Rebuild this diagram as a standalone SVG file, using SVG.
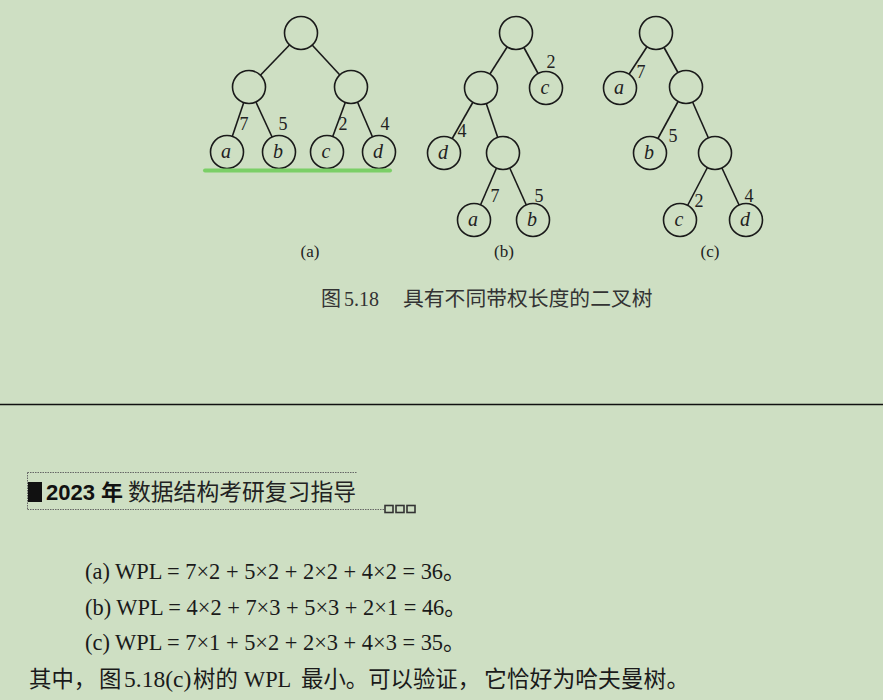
<svg xmlns="http://www.w3.org/2000/svg" width="883" height="700" viewBox="0 0 883 700">
<style>
.bg{fill:#cedfc3}
.edge{stroke:#1a1a1a;stroke-width:1.6;fill:none}
.node circle{fill:#cedfc3;stroke:#1a1a1a;stroke-width:1.6}
.leaf{font-family:"Liberation Serif",serif;font-style:italic;font-size:20px;fill:#222;text-anchor:middle}
.w{font-family:"Liberation Serif",serif;font-size:18px;fill:#222;text-anchor:middle}
.sub{font-family:"Liberation Serif",serif;font-size:17px;fill:#222;text-anchor:middle}
.cap{font-family:"Liberation Serif","Noto Sans CJK SC",serif;font-size:20px;fill:#333}
.body{font-family:"Liberation Serif","Noto Sans CJK SC",serif;font-size:22.4px;fill:#1a1a1a}
.frame{stroke:#666;stroke-width:1;stroke-dasharray:1.5 1;fill:none}
</style>
<rect class="bg" x="0" y="0" width="883" height="700"/>
<g id="connectors">
  <line class="edge" x1="301" y1="33" x2="249" y2="87"/>
  <line class="edge" x1="301" y1="33" x2="351" y2="87"/>
  <line class="edge" x1="249" y1="87" x2="227" y2="152"/>
  <line class="edge" x1="249" y1="87" x2="279" y2="152"/>
  <line class="edge" x1="351" y1="87" x2="327" y2="152"/>
  <line class="edge" x1="351" y1="87" x2="379" y2="152"/>
  <line class="edge" x1="516" y1="33" x2="481" y2="88"/>
  <line class="edge" x1="516" y1="33" x2="546" y2="88"/>
  <line class="edge" x1="481" y1="88" x2="444" y2="153"/>
  <line class="edge" x1="481" y1="88" x2="503" y2="153"/>
  <line class="edge" x1="503" y1="153" x2="474" y2="220"/>
  <line class="edge" x1="503" y1="153" x2="533" y2="220"/>
  <line class="edge" x1="656" y1="33" x2="620" y2="88"/>
  <line class="edge" x1="656" y1="33" x2="686" y2="87"/>
  <line class="edge" x1="686" y1="87" x2="650" y2="153"/>
  <line class="edge" x1="686" y1="87" x2="715" y2="153"/>
  <line class="edge" x1="715" y1="153" x2="680" y2="220"/>
  <line class="edge" x1="715" y1="153" x2="746" y2="220"/>
</g>
<g id="edge-labels">
  <text class="w" x="244" y="130">7</text>
  <text class="w" x="283" y="130">5</text>
  <text class="w" x="343" y="130">2</text>
  <text class="w" x="385" y="130">4</text>
  <text class="w" x="551" y="68">2</text>
  <text class="w" x="462" y="137">4</text>
  <text class="w" x="495" y="202">7</text>
  <text class="w" x="539" y="202">5</text>
  <text class="w" x="641" y="78">7</text>
  <text class="w" x="673" y="142">5</text>
  <text class="w" x="699" y="207">2</text>
  <text class="w" x="749" y="202">4</text>
</g>
<g id="a-root" class="node"><circle cx="301" cy="33" r="16.5"/></g>
<g id="a-left" class="node"><circle cx="249" cy="87" r="16.5"/></g>
<g id="a-right" class="node"><circle cx="351" cy="87" r="16.5"/></g>
<g id="a-leaf-a" class="node"><circle cx="227" cy="152" r="16.5"/><text class="leaf" x="226" y="158">a</text></g>
<g id="a-leaf-b" class="node"><circle cx="279" cy="152" r="16.5"/><text class="leaf" x="278" y="158">b</text></g>
<g id="a-leaf-c" class="node"><circle cx="327" cy="152" r="16.5"/><text class="leaf" x="326" y="158">c</text></g>
<g id="a-leaf-d" class="node"><circle cx="379" cy="152" r="16.5"/><text class="leaf" x="378" y="158">d</text></g>
<g id="b-root" class="node"><circle cx="516" cy="33" r="16.5"/></g>
<g id="b-int1" class="node"><circle cx="481" cy="88" r="16.5"/></g>
<g id="b-leaf-c" class="node"><circle cx="546" cy="88" r="16.5"/><text class="leaf" x="545" y="94">c</text></g>
<g id="b-leaf-d" class="node"><circle cx="444" cy="153" r="16.5"/><text class="leaf" x="443" y="159">d</text></g>
<g id="b-int2" class="node"><circle cx="503" cy="153" r="16.5"/></g>
<g id="b-leaf-a" class="node"><circle cx="474" cy="220" r="16.5"/><text class="leaf" x="473" y="226">a</text></g>
<g id="b-leaf-b" class="node"><circle cx="533" cy="220" r="16.5"/><text class="leaf" x="532" y="226">b</text></g>
<g id="c-root" class="node"><circle cx="656" cy="33" r="16.5"/></g>
<g id="c-leaf-a" class="node"><circle cx="620" cy="88" r="16.5"/><text class="leaf" x="619" y="94">a</text></g>
<g id="c-int1" class="node"><circle cx="686" cy="87" r="16.5"/></g>
<g id="c-leaf-b" class="node"><circle cx="650" cy="153" r="16.5"/><text class="leaf" x="649" y="159">b</text></g>
<g id="c-int2" class="node"><circle cx="715" cy="153" r="16.5"/></g>
<g id="c-leaf-c" class="node"><circle cx="680" cy="220" r="16.5"/><text class="leaf" x="679" y="226">c</text></g>
<g id="c-leaf-d" class="node"><circle cx="746" cy="220" r="16.5"/><text class="leaf" x="745" y="226">d</text></g>
<line x1="205" y1="170.5" x2="390" y2="170.5" stroke="#7bcf67" stroke-width="4" stroke-linecap="round"/>
<text class="sub" x="310" y="257">(a)</text>
<text class="sub" x="504" y="257">(b)</text>
<text class="sub" x="710" y="257">(c)</text>
<text class="cap" y="306"><tspan x="321">图</tspan><tspan x="344">5.18</tspan><tspan x="403" font-size="20.8">具有不同带权长度的二叉树</tspan></text>
<line x1="0" y1="404.5" x2="883" y2="404.5" stroke="#111" stroke-width="1.6"/>
<g id="header">
  <path class="frame" d="M27.5 472.5 H357 M27.5 472.5 V509.5 M27.5 509.5 H384"/>
  <rect x="28" y="482" width="14" height="20" fill="#111"/>
  <text x="46" y="500" font-family="Liberation Sans,Noto Sans CJK SC,sans-serif" font-size="22" font-weight="bold" fill="#111">2023 年</text>
  <text x="128" y="500" font-family="Noto Sans CJK SC,sans-serif" font-size="22.8" fill="#222">数据结构考研复习指导</text>
  <g fill="none" stroke="#333" stroke-width="1.6">
    <rect x="385" y="505.5" width="8" height="7"/>
    <rect x="396" y="505.5" width="8" height="7"/>
    <rect x="407" y="505.5" width="8" height="7"/>
  </g>
</g>
<text class="body" x="85" y="579">(a) WPL = 7×2 + 5×2 + 2×2 + 4×2 = 36。</text>
<text class="body" x="85" y="615">(b) WPL = 4×2 + 7×3 + 5×3 + 2×1 = 46。</text>
<text class="body" x="85" y="650">(c) WPL = 7×1 + 5×2 + 2×3 + 4×3 = 35。</text>
<text class="body" y="687"><tspan x="29">其中，</tspan><tspan x="99">图</tspan><tspan x="124" font-size="23.5">5.18(c)</tspan><tspan x="193">树的</tspan><tspan x="244">WPL</tspan><tspan x="301">最小。可以验证，</tspan><tspan x="484" font-size="22.8">它恰好为哈夫曼树。</tspan></text>
</svg>
